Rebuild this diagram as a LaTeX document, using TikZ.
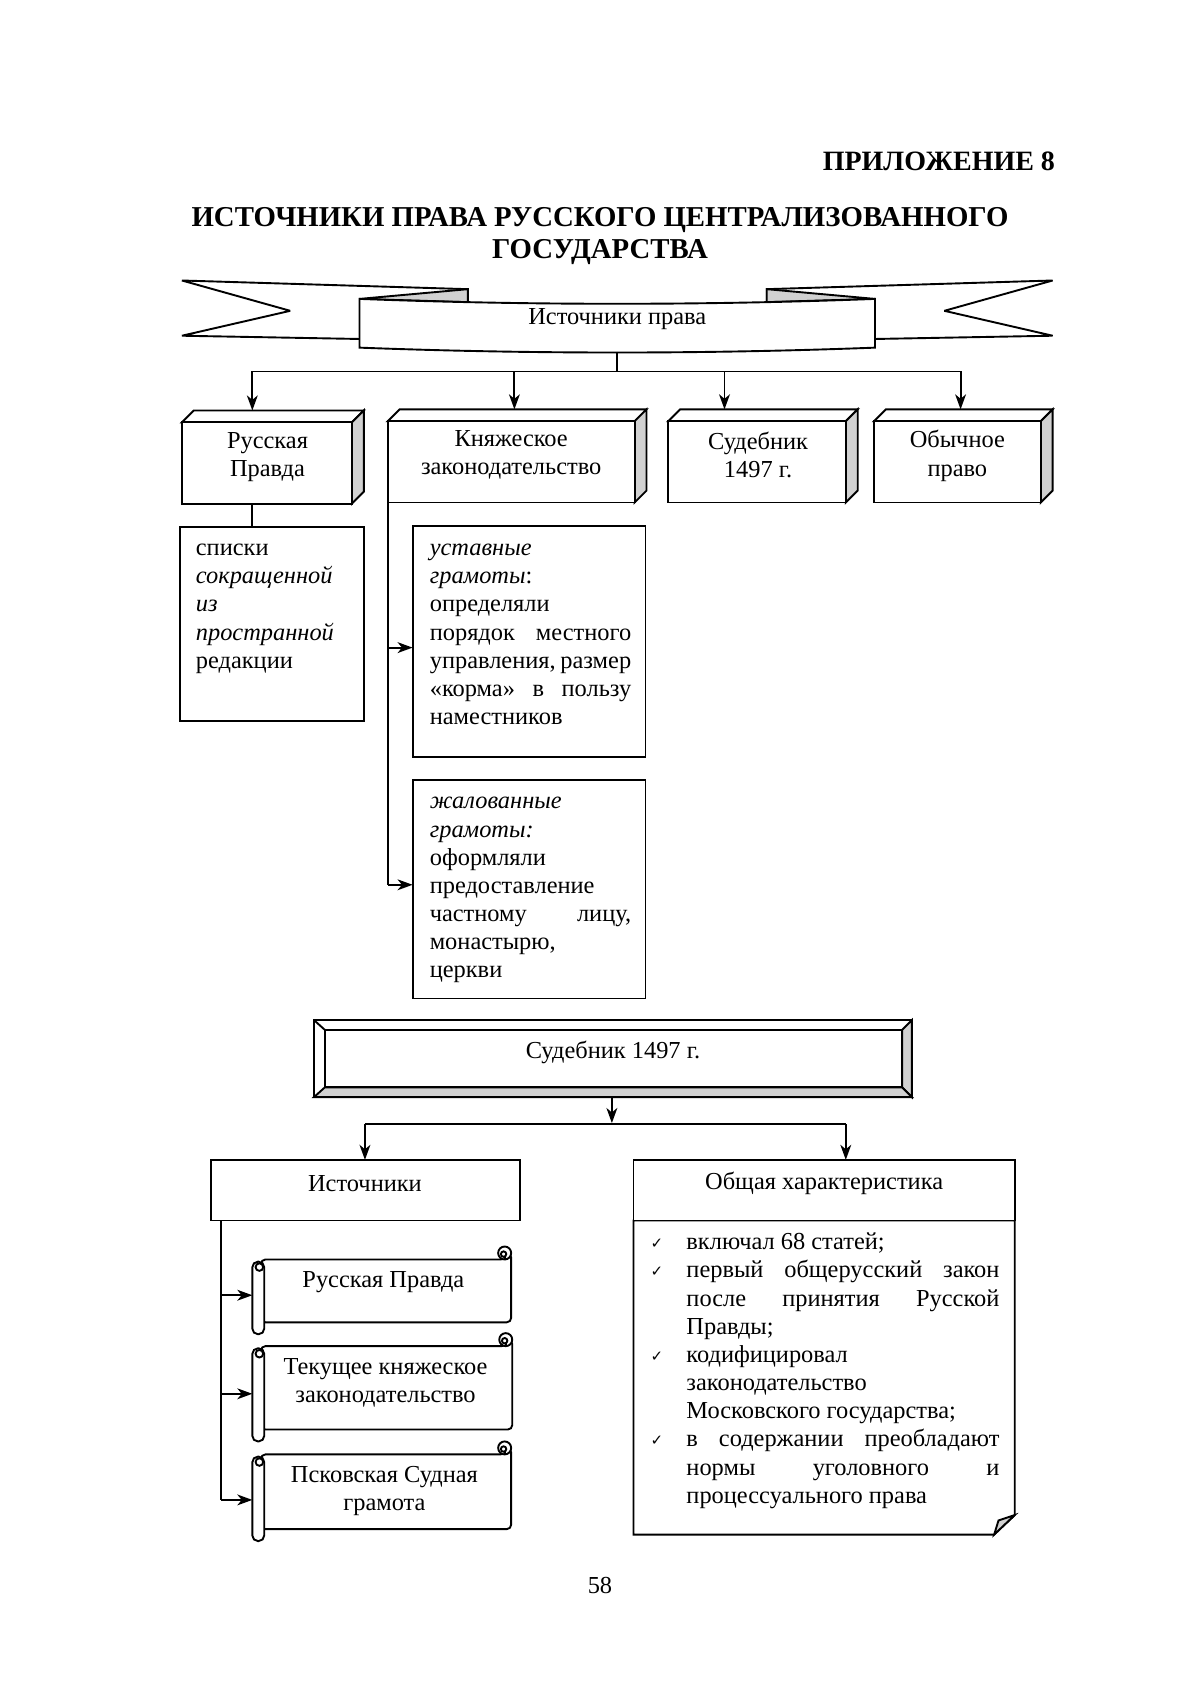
\documentclass[tikz,border=0pt]{standalone}
\usepackage{fontspec}
\setmainfont{Liberation Serif}
\newfontfamily\dejavu{DejaVu Sans}
\usetikzlibrary{arrows.meta}
\newcommand\U{0.5415pt}
\newcommand\fs{\fontsize{12.2pt}{14.08pt}\selectfont}
\newcommand\jl[1]{\makebox[\hsize][s]{#1}}
\newcommand\chk{{\dejavu\fontsize{7.5pt}{8pt}\selectfont ✓}}
% 3D box: name, x1, y1, x2, y2
\newcommand\threed[5]{%
  \draw[fill=white] (#2,#3) -- (#2+11,#3-11) -- (#4+11,#3-11) -- (#4,#3) -- cycle;
  \draw[fill=black!18] (#4,#3) -- (#4+11,#3-11) -- (#4+11,#5-11) -- (#4,#5) -- cycle;
  \node[draw, fill=white, anchor=north west, inner sep=0pt, outer sep=0pt,
        minimum width={(#4-#2)*\U}, minimum height={(#5-#3)*\U}] (#1) at (#2,#3) {};}
% scroll: l, t, r, b
\newcommand\scrollshape[4]{%
  \draw[fill=white, rounded corners=2.2pt] (#1+8,#2) -- (#3-6,#2) -- (#3,#2-6) -- (#3,#4) -- (#1+8,#4) -- cycle;
  \draw[fill=white] (#3-6,#2-6) circle[radius=6];
  \draw (#3-6,#2) -- (#3-6,#2-4);
  \draw[fill=white] (#3-7,#2-5) circle[radius=2.5];
  \draw[fill=white, rounded corners=2.8pt] (#1,#2+2) rectangle (#1+11,#4+11);
  \draw[fill=white] (#1+6.5,#2+7) circle[radius=3.5];}
\begin{document}
\begin{tikzpicture}[x=0.5415pt,y=-0.5415pt, line width=0.95pt,
  txt/.style={inner sep=0pt, font=\fs, align=center},
  arr/.style={-{Stealth[length=7.5pt,width=5.4pt,inset=2.2pt]}},
  plainbox/.style={draw, fill=white, anchor=north west, inner sep=0pt, outer sep=0pt},
  band/.style={draw, fill=black!18}]
\path[use as bounding box] (0,0) rectangle (1108,1567);

% headings
\node[anchor=base east, inner sep=0pt, font=\bfseries\fontsize{14pt}{16pt}\selectfont] (app) at (975,157) {ПРИЛОЖЕНИЕ 8};
\node[anchor=base, inner sep=0pt, font=\bfseries\fontsize{14.4pt}{16pt}\selectfont] (title1) at (554,209) {ИСТОЧНИКИ ПРАВА РУССКОГО ЦЕНТРАЛИЗОВАННОГО};
\node[anchor=base, inner sep=0pt, font=\bfseries\fontsize{14.4pt}{16pt}\selectfont] (title2) at (554,239) {ГОСУДАРСТВА};

% banner
\begin{scope}[miter limit=2]
\draw[fill=white] (168,259) -- (432,267) -- (432,300) -- (332,313) -- (168,310) -- (268,287) -- cycle;
\draw[fill=black!18] (332,276) -- (432,267) -- (432,279) -- cycle;
\draw[fill=white] (972,259) -- (708,267) -- (708,300) -- (808,313) -- (972,310) -- (872,287) -- cycle;
\draw[fill=black!18] (808,276) -- (708,267) -- (708,279) -- cycle;
\end{scope}
\draw[fill=white] (332,276) .. controls (490,282) and (650,282) .. (808,276) -- (808,321)
   .. controls (650,327) and (490,327) .. (332,321) -- cycle;
\node[txt] (src) at (570,295) {Источники права};
\coordinate (srcbot) at (570,325);
\coordinate (bus) at (570,343);
\coordinate (busL) at (233,343);
\coordinate (busR) at (887,343);
\draw (srcbot) -- (bus);
\draw (busL) -- (busR);

% top row boxes
\threed{b1}{168}{390}{325}{465}
\threed{b2}{358}{389}{586}{464}
\threed{b3}{617}{389}{781}{464}
\threed{b4}{807}{389}{961}{464}
\node[txt] (b1t) at (247,422) {Русская\\Правда};
\node[txt] (b2t) at (472,420) {Княжеское\\законодательство};
\node[txt] (b3t) at (700,420) {Судебник\\1497 г.};
\node[txt] (b4t) at (884,421) {Обычное\\право};
\coordinate (b1in) at (233,379);
\coordinate (b2in) at (475,378);
\coordinate (b3in) at (669,378);
\coordinate (b4in) at (887,378);
\draw[arr] (busL) -- (b1in);
\draw[arr] (b2in |- busL) -- (b2in);
\draw[arr] (b3in |- busL) -- (b3in);
\draw[arr] (busR) -- (b4in);

% spiski
\node[plainbox, minimum width={170*\U}, minimum height={179*\U}] (sp) at (166,487) {};
\node[anchor=base west, inner sep=0pt] (spt) at (180,513) {\parbox[t]{81pt}{\fs списки\\ \textit{сокращенной}\\ \textit{из}\\ \textit{пространной}\\ редакции}};
\draw (b1.south west -| b1in) -- (sp.north -| b1in);

% ustavnye / zhalovannye
\node[plainbox, minimum width={215*\U}, minimum height={213*\U}] (ust) at (381,486) {};
\node[anchor=base west, inner sep=0pt] (ustt) at (396,513) {\parbox[t]{100.7pt}{\fs \textit{уставные}\\ \textit{грамоты}:\\ определяли\\ \jl{порядок местного}\\ \jl{управления, размер}\\ \jl{«корма» в пользу}\\ наместников}};
\node[plainbox, minimum width={215*\U}, minimum height={202*\U}] (zh) at (381,720) {};
\node[anchor=base west, inner sep=0pt] (zht) at (396,747) {\parbox[t]{100.7pt}{\fs \textit{жалованные}\\ \textit{грамоты:}\\ оформляли\\ предоставление\\ \jl{частному лицу,}\\ монастырю,\\ церкви}};
\coordinate (ustin) at (381,598);
\coordinate (zhin) at (381,817);
\draw (b2.south west) -- (b2.south west |- zhin);
\draw[arr] (b2.south west |- ustin) -- (ustin);
\draw[arr] (b2.south west |- zhin) -- (zhin);

% Sudebnik frame
\node[plainbox, minimum width={552*\U}, minimum height={71*\U}] (sud) at (290,942) {};
\draw[band] (833,951) -- (842,942) -- (842,1013) -- (833,1004) -- cycle;
\draw[band] (300,1004) -- (833,1004) -- (842,1013) -- (290,1013) -- cycle;
\draw (290,942) -- (300,951);
\draw[fill=white] (300,951) rectangle (833,1004);
\node[txt] (sudt) at (566,972) {Судебник 1497 г.};
\coordinate (bus2) at (565,1037);
\coordinate (bus2L) at (337,1038);
\coordinate (bus2R) at (781,1038);
\draw[arr] (sud.south -| bus2) -- (bus2);
\draw (bus2L) -- (bus2R);

% Istochniki
\node[plainbox, minimum width={285*\U}, minimum height={56*\U}] (ist) at (195,1071) {};
\node[txt] (istt) at (337,1093) {Источники};
\draw[arr] (bus2L) -- (ist.north -| bus2L);

% Obshchaya
\draw[fill=white] (585,1127) -- (937,1127) -- (937,1399) -- (918,1417) -- (585,1417) -- cycle;
\draw[fill=black!18] (918,1417) .. controls (920,1410) .. (922,1404) -- (937,1399) -- cycle;
\node[plainbox, minimum width={352*\U}, minimum height={56*\U}] (ob) at (585,1071) {};
\node[txt] (obt) at (761,1093) {Общая характеристика};
\draw[arr] (bus2R) -- (ob.north -| bus2R);
\node[anchor=base west, inner sep=0pt] (obl) at (633,1154) {\parbox[t]{156.5pt}{\fs включал 68 статей;\\ \jl{первый общерусский закон}\\ \jl{после принятия Русской}\\ Правды;\\ кодифицировал\\ законодательство\\ Московского государства;\\ \jl{в содержании преобладают}\\ \jl{нормы уголовного и}\\ процессуального права}};
\node[anchor=base west, inner sep=0pt] (c1) at (600,1153) {\chk};
\node[anchor=base west, inner sep=0pt] (c2) at (600,1179) {\chk};
\node[anchor=base west, inner sep=0pt] (c3) at (600,1257) {\chk};
\node[anchor=base west, inner sep=0pt] (c4) at (600,1335) {\chk};

% scrolls
\scrollshape{233}{1163}{472}{1221}
\scrollshape{233}{1243}{473}{1320}
\scrollshape{233}{1343}{472}{1412}
\node[txt] (s1) at (354,1184) {Русская Правда};
\node[txt] (s2) at (356,1277) {Текущее княжеское\\законодательство};
\node[txt] (s3) at (355,1377) {Псковская Судная\\грамота};
\coordinate (s1in) at (233,1196);
\coordinate (s2in) at (233,1287);
\coordinate (s3in) at (233,1385);
\coordinate (istv) at (204,1127);
\draw (istv) -- (istv |- s3in);
\draw[arr] (istv |- s1in) -- (s1in);
\draw[arr] (istv |- s2in) -- (s2in);
\draw[arr] (istv |- s3in) -- (s3in);

\node[txt] (page) at (554,1464) {58};
\end{tikzpicture}
\end{document}
